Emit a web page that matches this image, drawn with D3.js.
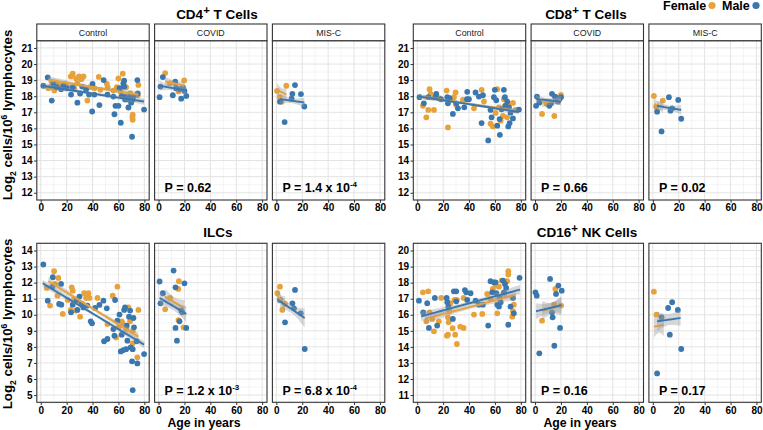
<!DOCTYPE html>
<html>
<head>
<meta charset="utf-8">
<script src="https://cdn.jsdelivr.net/npm/d3@7"></script>
<style>
body{margin:0;background:#fff}
svg{display:block;font-family:"Liberation Sans",Arial,sans-serif}
</style>
</head>
<body>
<script>
// facets and axis ticks
const facets = ["Control", "COVID", "MIS-C"]
const ageTicks = [0, 20, 40, 60, 80]
const ageLimits = [0.9, 79.8]
const sexes = ["Female", "Male"]

// points: [facet, age, log2 value]
const cd4Female = [
  ["Control",5.9,18.5],["Control",7.2,18.56],["Control",8.5,18.9],["Control",10.5,18.35],["Control",11.1,18.86],
  ["Control",13.6,18.7],["Control",18.8,18.77],["Control",20.5,18.6],["Control",23.2,19.23],["Control",24.7,19.4],
  ["Control",26,18.45],["Control",27.3,19.1],["Control",28.3,18.8],["Control",29.6,19.23],["Control",31.4,19.06],
  ["Control",33,19.23],["Control",36,17.73],["Control",38,18.56],["Control",41.4,18.5],["Control",44.8,19.2],
  ["Control",46,18.4],["Control",51,18.77],["Control",51.7,18.56],["Control",56.1,18.35],["Control",58.7,18.56],
  ["Control",60,19.1],["Control",61.8,18.3],["Control",63.3,19.4],["Control",63.8,18.6],["Control",65.9,18.56],
  ["Control",67.2,17.98],["Control",69,18.17],["Control",70.8,16.7],["Control",71,16.53],["Control",71,16.85],
  ["Control",74.9,18.06],["Control",75.4,18.7],
  ["COVID",5.1,19.44],["COVID",8.8,18.8],["COVID",12.9,18.77],["COVID",15.4,18.3],["COVID",19.8,18.98],
  ["MIS-C",0.5,18.33],["MIS-C",2.6,17.94],["MIS-C",4,17.65],["MIS-C",7.7,18.65]
]
const cd4Male = [
  ["Control",2,18.65],["Control",5.4,19.17],["Control",8.5,17.73],["Control",9.8,18.75],["Control",12.4,18.56],
  ["Control",15.7,18.44],["Control",17.5,18.65],["Control",20,18.5],["Control",23.4,18.1],["Control",24.7,18.56],
  ["Control",28.3,17.6],["Control",30.4,18.17],["Control",32,18.6],["Control",35,18.4],["Control",37.3,18.1],
  ["Control",39.7,17.05],["Control",40,18.77],["Control",41.4,18.1],["Control",45.3,17.45],["Control",48.6,19],
  ["Control",51.5,18.1],["Control",56.1,17.98],["Control",56.9,16.88],["Control",57.7,17.4],["Control",60,17.4],
  ["Control",60.8,18.5],["Control",61.8,16.35],["Control",62.5,18],["Control",63.8,18.8],["Control",64.4,18.96],
  ["Control",64.5,18.6],["Control",64.6,17.98],["Control",65.1,17.8],["Control",66.9,17.8],["Control",67.7,17.3],
  ["Control",69,18],["Control",69.8,17.6],["Control",70.5,15.48],["Control",71,17.8],["Control",71.6,18],
  ["Control",74.6,19],["Control",74.9,18.17],["Control",79.8,17.17],
  ["COVID",0.8,17.94],["COVID",1.5,18.6],["COVID",3.3,19.19],["COVID",11,18.06],["COVID",12.9,18.9],
  ["COVID",13.6,18.5],["COVID",16,18.44],["COVID",17.5,17.85],["COVID",18.8,18.54],["COVID",20,18.33],["COVID",21.4,18.02],
  ["MIS-C",2.8,17.66],["MIS-C",6.4,16.39],["MIS-C",11.8,17.85],["MIS-C",12.4,18.15],["MIS-C",14.4,18.69],
  ["MIS-C",19,18.13],["MIS-C",21.6,17.36]
]
const cd8Female = [
  ["Control",4.4,17.4],["Control",7,16.69],["Control",8.5,17.15],["Control",9.5,18.44],["Control",10.3,18.15],
  ["Control",11.6,17.98],["Control",12.9,17.15],["Control",16.7,17.88],["Control",22.7,18.35],["Control",23.7,16.06],
  ["Control",24.5,17.77],["Control",27,17.81],["Control",28.3,17.94],["Control",29.6,18.23],["Control",30.1,17.46],
  ["Control",35.2,17.77],["Control",43.8,17.25],["Control",49.7,18.4],["Control",51.5,17.67],["Control",56.6,16.29],
  ["Control",58.4,16.12],["Control",60.5,16.96],["Control",61.8,18.44],["Control",63.1,17.31],["Control",64.4,16.48],
  ["Control",66.2,16.77],["Control",66.9,17.81],["Control",67.7,17.4],["Control",69.5,16.69],["Control",70.8,17.5],
  ["Control",73.9,17.58],["Control",75.9,17.15],
  ["COVID",5.4,16.9],["COVID",9,17.52],["COVID",14.9,16.77],["COVID",16.2,17.94],["COVID",20,18.08],
  ["MIS-C",0.8,18.02],["MIS-C",2.6,17.35],["MIS-C",7.7,17.73]
]
const cd8Male = [
  ["Control",1.8,17.94],["Control",5.1,17.56],["Control",8.5,17.94],["Control",14.2,17.94],["Control",14.7,18.15],
  ["Control",18.3,17.81],["Control",23.2,17.94],["Control",23.7,17.56],["Control",25,17.88],["Control",27.5,16.9],
  ["Control",30.1,17.56],["Control",31.4,17.25],["Control",36.3,17.31],["Control",38.4,17.81],["Control",38.6,18.27],
  ["Control",39.9,17.81],["Control",45,18.23],["Control",47.6,17.98],["Control",49.7,16.33],["Control",50.7,18.06],
  ["Control",54.8,15.25],["Control",56.6,17.15],["Control",57.4,16.69],["Control",59.2,17.94],["Control",59.9,18.4],
  ["Control",61,17.75],["Control",61.8,16.17],["Control",63.6,16.58],["Control",63.8,15.6],["Control",65.1,17.19],
  ["Control",66.9,18.4],["Control",67.7,17.94],["Control",68.2,17.4],["Control",69.5,17.67],["Control",70.3,16.12],
  ["Control",70.8,17.31],["Control",71.3,16.33],["Control",72,16.98],["Control",73.9,16.62],["Control",78.5,17.17],
  ["COVID",0.8,17.4],["COVID",1.5,17.98],["COVID",3.3,17.6],["COVID",11,17.4],["COVID",12.4,17.56],
  ["COVID",13.1,18.15],["COVID",15.4,17.98],["COVID",17.5,17.67],["COVID",18.8,17.81],["COVID",20,17.94],
  ["MIS-C",3.3,17.04],["MIS-C",6.7,15.81],["MIS-C",12.4,17.94],["MIS-C",13.6,17.1],["MIS-C",14.9,17.25],
  ["MIS-C",19.6,17.77],["MIS-C",21.9,16.6]
]
const ilcFemale = [
  ["Control",4.6,11.67],["Control",7.2,10.57],["Control",10.3,12.71],["Control",11.1,11.92],["Control",12.9,11.19],
  ["Control",13.6,12.29],["Control",17,10.05],["Control",20.8,10.92],["Control",23.2,10.3],["Control",23.9,11.71],
  ["Control",24.7,11.5],["Control",25.7,10.98],["Control",27.3,10.26],["Control",30.4,9.88],["Control",30.9,10.71],
  ["Control",33.5,11.34],["Control",35,11.05],["Control",36.8,11.34],["Control",37.6,11.05],["Control",43.8,11.05],
  ["Control",51.5,9.42],["Control",55.6,11.19],["Control",58.2,8.59],["Control",59.2,11.75],["Control",60,9.22],
  ["Control",62.5,9.59],["Control",63.3,9.47],["Control",65.9,9.11],["Control",67.7,10.46],["Control",69,9.59],
  ["Control",71,8.97],["Control",71,8.22],["Control",74.6,7.35],["Control",75.4,10.3],
  ["COVID",5.1,10.34],["COVID",9,11.05],["COVID",15.2,11.61],["COVID",15.7,12.09],["COVID",15.4,9.67],["COVID",19.3,9.22],
  ["MIS-C",0.8,11.34],["MIS-C",2.8,11.75],["MIS-C",4.6,10.3],["MIS-C",6.7,10.67]
]
const ilcMale = [
  ["Control",2,13.13],["Control",5.4,10.88],["Control",9,11.75],["Control",9.3,12.34],["Control",14.2,10.67],
  ["Control",15.7,11.92],["Control",15.9,10.63],["Control",23.4,10.15],["Control",24.7,10.63],["Control",27.8,10.92],
  ["Control",28.3,10.3],["Control",29.9,11.13],["Control",31.7,10.67],["Control",32.9,10.46],["Control",36,10.57],
  ["Control",38.6,9.59],["Control",39.6,9.47],["Control",42,10.42],["Control",45.3,10.61],["Control",48.4,10.88],
  ["Control",48.9,8.35],["Control",51,10.4],["Control",51.5,8.49],["Control",56.1,9.11],["Control",56.9,8.7],
  ["Control",57.4,10.92],["Control",59.2,9.63],["Control",60.8,10.01],["Control",61.8,7.72],["Control",62.5,8.76],
  ["Control",63.8,7.8],["Control",64.4,10.3],["Control",65.1,10.46],["Control",65.9,7.86],["Control",66.4,9.32],
  ["Control",66.9,8.39],["Control",68.2,9.88],["Control",69,10.26],["Control",69.5,7.97],["Control",70.5,7.1],
  ["Control",71,5.31],["Control",71,7.86],["Control",71.6,9.8],["Control",72,9.22],["Control",74.1,8.35],
  ["Control",74.6,6.97],["Control",79.8,7.55],
  ["COVID",0.8,12.07],["COVID",1.5,10.71],["COVID",3.3,11.34],["COVID",11.6,12.75],["COVID",13.1,11.71],
  ["COVID",13.1,9.18],["COVID",14.2,8.39],["COVID",16.2,9.59],["COVID",17.5,10.26],["COVID",18.3,10.15],
  ["COVID",20,11.96],["COVID",21.4,9.18],
  ["MIS-C",2.8,10.92],["MIS-C",6.7,9.53],["MIS-C",12.4,10.71],["MIS-C",13.6,10.4],["MIS-C",14.4,11.55],
  ["MIS-C",18.8,10.09],["MIS-C",21.9,7.87]
]
const cd16Female = [
  ["Control",4.4,17.4],["Control",7,15.59],["Control",8.5,17.46],["Control",9.5,16.15],["Control",11.6,15.74],
  ["Control",12.9,14.97],["Control",16.7,15.59],["Control",18.5,17.05],["Control",22.9,14.7],["Control",23.7,14.76],
  ["Control",23.7,15.84],["Control",24.2,15.53],["Control",24.7,16.22],["Control",25.5,16.72],["Control",27.3,15.16],
  ["Control",28.8,16.92],["Control",29.3,14.76],["Control",30.6,14.18],["Control",30.6,16.92],["Control",33.2,15.26],
  ["Control",35.8,15.18],["Control",35.8,17.05],["Control",43.8,16.01],["Control",50.2,16.05],["Control",54,17.3],
  ["Control",56.6,16.99],["Control",58.4,17.61],["Control",60.5,17.82],["Control",61.8,16.09],["Control",63.1,17.75],
  ["Control",65.1,18.13],["Control",67,17.3],["Control",69.5,18.09],["Control",70.3,18.5],["Control",70.3,18.71],
  ["Control",73.4,15.88],["Control",73.9,16.22],["Control",74.6,16.63],
  ["COVID",5.4,15.63],["COVID",14.7,16.63],["COVID",15.7,17.61],["COVID",20.1,16.57],
  ["MIS-C",0.8,17.44],["MIS-C",2.8,16.01]
]
const cd16Male = [
  ["Control",1.3,16.88],["Control",4.6,16.15],["Control",7.7,16.72],["Control",9,15.18],["Control",13.6,17.05],
  ["Control",15.4,15.33],["Control",22.7,17.05],["Control",23.2,16.78],["Control",24,16.51],["Control",27.5,15.74],
  ["Control",28.3,17.46],["Control",30.1,17.46],["Control",30.1,16.84],["Control",36.8,17.54],["Control",37.8,17.4],
  ["Control",38.6,16.92],["Control",41.2,17.34],["Control",45,16.88],["Control",47.6,16.63],["Control",50.7,16.63],
  ["Control",54.8,15.33],["Control",56.6,18.09],["Control",57.9,17.4],["Control",59.2,18.02],["Control",60.5,18.02],
  ["Control",61,17.34],["Control",61.8,16.63],["Control",63.1,16.51],["Control",63.6,17.05],["Control",64.4,16.78],
  ["Control",66.2,18.13],["Control",67,17.4],["Control",67.7,17.92],["Control",68.7,17.67],["Control",70.3,15.38],
  ["Control",72,16.51],["Control",73.9,17.05],["Control",74.6,16.09],["Control",79,18.3],
  ["COVID",0.3,17.4],["COVID",1.3,17.19],["COVID",3.3,13.6],["COVID",11.6,18.23],["COVID",13.1,16.15],
  ["COVID",13.6,15.84],["COVID",14.9,14.07],["COVID",16.2,17.3],["COVID",18,17.82],["COVID",19.3,15.18],["COVID",20.6,17.5],
  ["MIS-C",3.3,12.35],["MIS-C",6.7,15.84],["MIS-C",11.8,16.42],["MIS-C",13.1,14.76],["MIS-C",14.9,16.78],
  ["MIS-C",19.3,16.3],["MIS-C",21.9,13.87]
]

// linear fits: [facet, sex, age0, age1, fit0, fit1, halfCI0, halfCImid, halfCI1]
const cd4Fits = [
  ["Control","Female",5.9,75.4,19.02,18.09,0.22,0.09,0.22],["Control","Male",0.8,79.8,18.65,17.67,0.2,0.08,0.2],
  ["COVID","Female",5.1,20,18.92,18.65,0.3,0.15,0.3],["COVID","Male",0.8,21.4,18.65,18.36,0.3,0.15,0.3],
  ["MIS-C","Female",0.5,7.7,18.4,18.1,0.4,0.25,0.4],["MIS-C","Male",2.8,21.6,17.82,17.61,0.3,0.15,0.3]
]
const cd8Fits = [
  ["Control","Female",4.4,75.9,17.95,17.1,0.15,0.07,0.15],["Control","Male",0.8,78.5,17.99,17.02,0.15,0.07,0.15],
  ["COVID","Female",5.4,20,17.6,17.75,0.3,0.2,0.3],["COVID","Male",0.8,20,17.82,17.67,0.25,0.12,0.25],
  ["MIS-C","Female",0.8,7.7,17.5,17.35,0.4,0.25,0.4],["MIS-C","Male",3.3,21.9,17.4,17.15,0.3,0.15,0.3]
]
const ilcFits = [
  ["Control","Female",5.9,75.4,12.09,8.64,0.25,0.1,0.25],["Control","Male",1.5,79.8,11.96,8.14,0.22,0.09,0.22],
  ["COVID","Female",5.1,20,11.13,10.42,0.5,0.3,0.5],["COVID","Male",0.8,21.4,11.05,10.05,0.45,0.25,0.5],
  ["MIS-C","Female",0.8,6.7,11.19,10.67,0.5,0.3,0.5],["MIS-C","Male",2.8,21.9,10.84,9.8,0.4,0.25,0.6]
]
const cd16Fits = [
  ["Control","Female",6,76,15.74,17.24,0.3,0.12,0.3],["Control","Male",2.9,79.4,15.9,17.57,0.3,0.12,0.3],
  ["COVID","Female",5.4,20.1,16.25,16.55,0.6,0.35,0.6],["COVID","Male",0.8,20.6,16.22,16.6,0.5,0.3,0.5],
  ["MIS-C","Female",0.8,8.5,15.26,15.37,0.7,0.45,0.7],["MIS-C","Male",3.3,21.4,15.59,15.8,0.6,0.35,0.5]
]

// P values per facet (COVID, MIS-C): [mantissa, exponent]
const cd4P = [["0.62",null],["1.4","-4"]]
const cd8P = [["0.66",null],["0.02",null]]
const ilcP = [["1.2","-3"],["6.8","-4"]]
const cd16P = [["0.16",null],["0.17",null]]

const cd4Limits = [12, 21]
const cd8Limits = [12, 21]
const ilcLimits = [5, 14]
const cd16Limits = [11, 20]

function main(){
  const W = 763, H = 430
  const colors = {Female: '#e8a23a', Male: '#3b77af'}
  const font = '"Liberation Sans",Arial,sans-serif'

  const svg = d3.select('body').append('svg')
      .attr('width', W).attr('height', H)

  const facetW = 112.4, facetGap = 5.4
  const expand = function(l){ let d = (l[1]-l[0])*0.05; return [l[0]-d, l[1]+d] }

  const panels = [
    {name:'CD4', rest:' T Cells', pts:[cd4Female, cd4Male], fits:cd4Fits, p:cd4P, lim:cd4Limits,
     left:36.8, top:40.7, bottom:200, strip:true, yTitle:true, xTitle:false, tx:217, ax:204},
    {name:'CD8', rest:' T Cells', pts:[cd8Female, cd8Male], fits:cd8Fits, p:cd8P, lim:cd8Limits,
     left:413.3, top:40.7, bottom:200, strip:true, yTitle:false, xTitle:false, tx:586, ax:580},
    {name:'ILCs', rest:'', pts:[ilcFemale, ilcMale], fits:ilcFits, p:ilcP, lim:ilcLimits,
     left:36.8, top:243.3, bottom:402.3, strip:false, yTitle:true, xTitle:true, tx:218, ax:204},
    {name:'CD16', rest:' NK Cells', pts:[cd16Female, cd16Male], fits:cd16Fits, p:cd16P, lim:cd16Limits,
     left:413.3, top:243.3, bottom:402.3, strip:false, yTitle:false, xTitle:true, tx:587, ax:580}
  ]

  panels.forEach(function(pn){
    let y = d3.scaleLinear().domain(expand(pn.lim)).range([pn.bottom, pn.top])
    let yTicks = d3.range(pn.lim[0], pn.lim[1]+1, 1)
    let yMinor = d3.range(pn.lim[0]-0.5, pn.lim[1]+1, 1)

    // panel title
    let t = svg.append('text')
        .attr('x', pn.tx).attr('y', pn.strip ? 18.5 : 236.8)
        .attr('text-anchor', 'middle')
        .style('font-size', '13.5px').style('font-weight', 'bold')
    t.append('tspan').text(pn.name)
    if(pn.name != 'ILCs'){
      t.append('tspan').attr('dy', -5).style('font-size', '11.5px').text('+')
      t.append('tspan').attr('dy', 5).text(pn.rest)
    }

    facets.forEach(function(f, fi){
      let fx = pn.left + fi*(facetW+facetGap)
      let x = d3.scaleLinear().domain(expand(ageLimits)).range([fx, fx+facetW])
      let g = svg.append('g')

      // grid
      let clipId = 'clip' + pn.name + fi
      svg.append('clipPath').attr('id', clipId).append('rect')
          .attr('x', fx).attr('y', pn.top).attr('width', facetW).attr('height', pn.bottom-pn.top)
      let grid = g.append('g')
      grid.selectAll('.ym').data(yMinor).enter().append('line')
          .attr('x1', fx).attr('x2', fx+facetW)
          .attr('y1', d => y(d)).attr('y2', d => y(d))
          .attr('stroke', '#ededed').attr('stroke-width', 0.6)
      grid.selectAll('.xm').data([10,30,50,70]).enter().append('line')
          .attr('y1', pn.top).attr('y2', pn.bottom)
          .attr('x1', d => x(d)).attr('x2', d => x(d))
          .attr('stroke', '#ededed').attr('stroke-width', 0.6)
      grid.selectAll('.yM').data(yTicks).enter().append('line')
          .attr('x1', fx).attr('x2', fx+facetW)
          .attr('y1', d => y(d)).attr('y2', d => y(d))
          .attr('stroke', '#e3e3e3').attr('stroke-width', 1)
      grid.selectAll('.xM').data(ageTicks).enter().append('line')
          .attr('y1', pn.top).attr('y2', pn.bottom)
          .attr('x1', d => x(d)).attr('x2', d => x(d))
          .attr('stroke', '#e3e3e3').attr('stroke-width', 1)

      // points
      let marks = g.append('g').attr('clip-path', 'url(#' + clipId + ')')
      sexes.forEach(function(s, si){
        marks.selectAll('.p' + si)
            .data(pn.pts[si].filter(d => d[0] == f))
            .enter().append('circle')
            .attr('cx', d => x(d[1])).attr('cy', d => y(d[2]))
            .attr('r', 2.9)
            .attr('fill', colors[s])
      })

      // smooth: ribbon then line, per group
      let area = d3.area().x(d => x(d.a)).y0(d => y(d.lo)).y1(d => y(d.hi))
      let line = d3.line().x(d => x(d.a)).y(d => y(d.fit))
      sexes.forEach(function(s){
        pn.fits.filter(d => d[0] == f && d[1] == s).forEach(function(d){
          let pts = d3.range(0, 1.0001, 1/30).map(function(tt){
            let u = (tt-0.5)*2
            let we = u < 0 ? d[6] : d[8]
            let w = Math.sqrt(d[7]*d[7] + (we*we - d[7]*d[7])*u*u)
            let fit = d[4] + (d[5]-d[4])*tt
            return {a: d[2] + (d[3]-d[2])*tt, fit: fit, lo: fit-w, hi: fit+w}
          })
          marks.append('path').datum(pts).attr('d', area)
              .attr('fill', '#999').attr('fill-opacity', 0.38)
          marks.append('path').datum(pts).attr('d', line)
              .attr('fill', 'none').attr('stroke', colors[s]).attr('stroke-width', 1.9)
        })
      })

      // p value
      if(fi > 0){
        let pv = pn.p[fi-1]
        let pt = g.append('text')
            .attr('x', fx + 10).attr('y', y(pn.lim[0]) - 0.5)
            .style('font-size', '12.5px').style('font-weight', 'bold')
        pt.append('tspan').text('P = ' + pv[0] + (pv[1] ? ' x 10' : ''))
        if(pv[1]) pt.append('tspan').attr('dy', -5).style('font-size', '8px').text(pv[1])
      }

      // border
      g.append('rect').attr('x', fx).attr('y', pn.top).attr('width', facetW).attr('height', pn.bottom-pn.top)
          .attr('fill', 'none').attr('stroke', '#333').attr('stroke-width', 1.1)

      // strip
      if(pn.strip){
        g.append('rect').attr('x', fx).attr('y', 24).attr('width', facetW).attr('height', pn.top-24)
            .attr('fill', '#fff').attr('stroke', '#333').attr('stroke-width', 1.1)
        g.append('text').attr('x', fx + facetW/2).attr('y', 35.6)
            .attr('text-anchor', 'middle').attr('fill', '#1a1a1a')
            .style('font-size', '8.8px').text(f)
      }

      // x axis
      let xAxis = d3.axisBottom(x).tickValues(ageTicks).tickSize(2.75).tickPadding(1.5)
      let xg = g.append('g').attr('transform', 'translate(0,' + pn.bottom + ')').call(xAxis)
      xg.select('.domain').remove()
      xg.selectAll('line').attr('stroke', '#333')
      xg.selectAll('text').attr('fill', '#000').style('font-size', '10px')
          .style('font-weight', 'bold').style('font-family', font)

      // y axis on first facet
      if(fi == 0){
        let yAxis = d3.axisLeft(y).tickValues(yTicks).tickSize(2.75).tickPadding(1.5)
        let yg = g.append('g').attr('transform', 'translate(' + fx + ',0)').call(yAxis)
        yg.select('.domain').remove()
        yg.selectAll('line').attr('stroke', '#333')
        yg.selectAll('text').attr('fill', '#000').style('font-size', '10px')
            .style('font-weight', 'bold').style('font-family', font)
      }
    })

    // y title
    if(pn.yTitle){
      let cy = pn.strip ? 115 : 324
      let yt = svg.append('text')
          .attr('transform', 'translate(12,' + cy + ') rotate(-90)')
          .attr('text-anchor', 'middle')
          .style('font-size', '13.3px').style('font-weight', 'bold')
      yt.append('tspan').text('Log')
      yt.append('tspan').attr('dy', 3.5).style('font-size', '8.5px').text('2')
      yt.append('tspan').attr('dy', -3.5).text(' cells/10')
      yt.append('tspan').attr('dy', -5).style('font-size', '8.5px').text('6')
      yt.append('tspan').attr('dy', 5).text(' lymphocytes')
    }
    // x title
    if(pn.xTitle){
      svg.append('text').attr('x', pn.ax).attr('y', 426.5)
          .attr('text-anchor', 'middle')
          .style('font-size', '12.3px').style('font-weight', 'bold')
          .text('Age in years')
    }
  })

  // legend
  let lg = svg.append('g')
  let lx = [663, 722]
  sexes.forEach(function(s, i){
    lg.append('text').attr('x', lx[i]).attr('y', 10)
        .style('font-size', '12.5px').style('font-weight', 'bold').text(s)
  })
  lg.selectAll('circle').data(sexes).enter().append('circle')
      .attr('cx', (d, i) => [712, 756][i]).attr('cy', 5.5).attr('r', 3.6)
      .attr('fill', d => colors[d])
}
main()
</script>
</body>
</html>
